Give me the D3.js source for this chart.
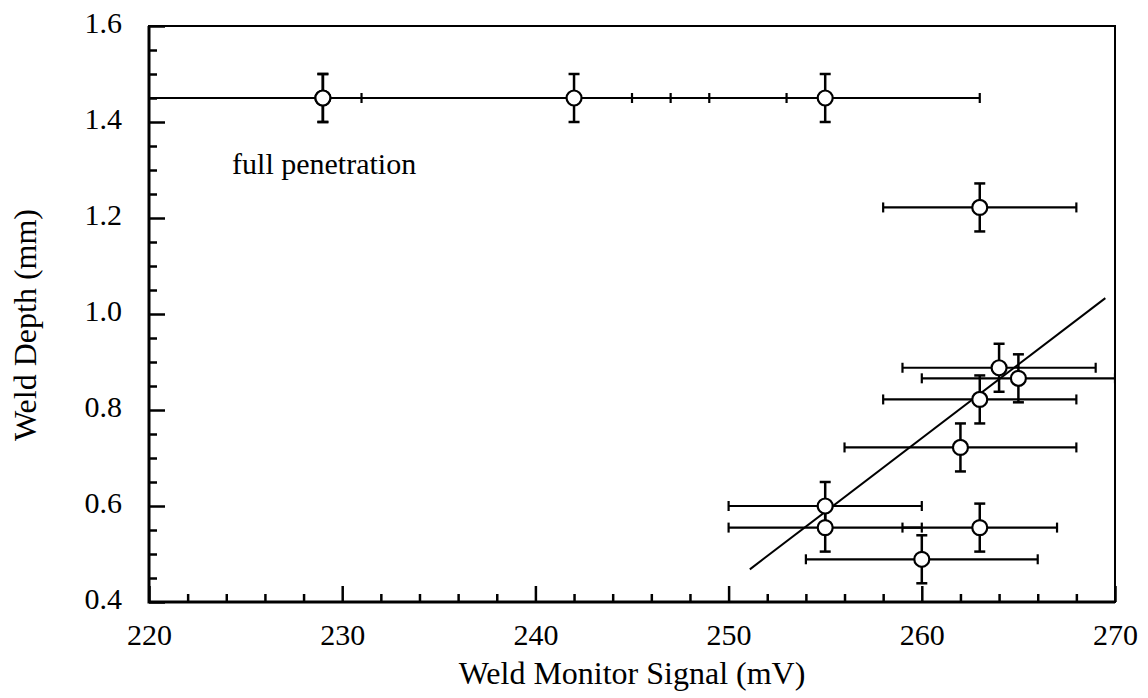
<!DOCTYPE html>
<html>
<head>
<meta charset="utf-8">
<script src="https://cdn.jsdelivr.net/npm/d3@7"></script>
<style>
  body { margin: 0; background: #fff; }
  svg text { font-family: "Liberation Serif", "Times New Roman", serif; fill: #000; }
</style>
</head>
<body>
<svg id="chart"></svg>
<script>
'use strict';

// measured points: weld monitor signal (mV) vs weld depth (mm)
var signal = [229, 229, 242, 255, 263, 264, 265, 263, 262, 255, 255, 263, 260];
var depth = [1.45, 1.45, 1.45, 1.45, 1.222, 0.888, 0.866, 0.822, 0.722, 0.600, 0.555, 0.555, 0.489];
var signalErr = [16, 20, 11, 8, 5, 5, 5, 5, 6, 5, 5, 4, 6];
var depthErr = [0.05, 0.05, 0.05, 0.05, 0.05, 0.05, 0.05, 0.05, 0.05, 0.05, 0.05, 0.05, 0.05];

// linear fit through the partial penetration points
var fitSignal = [251.1, 269.5];
var fitDepth = [0.468, 1.033];

var xTicks = [220, 230, 240, 250, 260, 270];
var yTicks = [0.4, 0.6, 0.8, 1.0, 1.2, 1.4, 1.6];

var width = 1148,
  height = 698,
  margin = {'top': 26, 'left': 149, 'right': 33, 'bottom': 96};

var iw = width - margin.left - margin.right,
  ih = height - margin.top - margin.bottom;

var xScale = d3.scaleLinear().domain([220, 270]).range([0, iw]);
var yScale = d3.scaleLinear().domain([0.4, 1.6]).range([ih, 0]);

var svg = d3.select('#chart')
  .attr('width', width)
  .attr('height', height);

svg.append('defs').append('clipPath')
  .attr('id', 'plotclip')
  .append('rect')
  .attr('width', iw)
  .attr('height', ih);

var g = svg.append('g')
  .attr('transform', 'translate(' + margin.left + ',' + margin.top + ')');

// minor ticks
var xMinor = d3.range(220, 271, 2).filter(function (v) { return v % 10 !== 0; });
var yMinor = d3.range(0, 25).map(function (i) { return +(0.4 + i * 0.05).toFixed(2); })
  .filter(function (v) { return Math.round(v * 100) % 20 !== 0; });

g.append('g')
  .attr('transform', 'translate(0,' + ih + ')')
  .call(d3.axisBottom(xScale).tickValues(xMinor).tickSize(-8).tickFormat(''))
  .call(function (a) { a.select('.domain').remove(); })
  .selectAll('line').attr('stroke-width', 2.5);

g.append('g')
  .call(d3.axisLeft(yScale).tickValues(yMinor).tickSize(-8).tickFormat(''))
  .call(function (a) { a.select('.domain').remove(); })
  .selectAll('line').attr('stroke-width', 2.5);

var xAxis = g.append('g')
  .attr('transform', 'translate(0,' + ih + ')')
  .call(d3.axisBottom(xScale).tickValues(xTicks).tickSize(-16).tickPadding(22).tickFormat(d3.format('d')));
xAxis.select('.domain').remove();
xAxis.selectAll('line').attr('stroke-width', 2.5);
xAxis.selectAll('text').attr('font-size', 30);

var yAxis = g.append('g')
  .call(d3.axisLeft(yScale).tickValues(yTicks).tickSize(-16).tickPadding(27).tickFormat(d3.format('.1f')));
yAxis.select('.domain').remove();
yAxis.selectAll('line').attr('stroke-width', 2.5);
yAxis.selectAll('text').attr('font-size', 30).attr('dy', '0.22em');

// frame
g.append('rect')
  .attr('width', iw)
  .attr('height', ih)
  .attr('fill', 'none')
  .attr('stroke', '#000')
  .attr('stroke-width', 2);
g.append('path')
  .attr('d', 'M0,0V' + ih + 'H' + iw)
  .attr('fill', 'none')
  .attr('stroke', '#000')
  .attr('stroke-width', 3);

var plot = g.append('g').attr('clip-path', 'url(#plotclip)');

// fit line
plot.append('line')
  .attr('x1', xScale(fitSignal[0]))
  .attr('y1', yScale(fitDepth[0]))
  .attr('x2', xScale(fitSignal[1]))
  .attr('y2', yScale(fitDepth[1]))
  .attr('stroke', '#000')
  .attr('stroke-width', 2);

var cap = 5;
signal.forEach(function (x, i) {
  var y = depth[i];
  var pg = plot.append('g').attr('stroke', '#000').attr('stroke-width', 2.2);
  var x0 = xScale(x - signalErr[i]), x1 = xScale(x + signalErr[i]);
  var y0 = yScale(y - depthErr[i]), y1 = yScale(y + depthErr[i]);
  var cx = xScale(x), cy = yScale(y);

  pg.append('line').attr('x1', x0).attr('x2', x1).attr('y1', cy).attr('y2', cy);
  [x0, x1].forEach(function (v) {
    pg.append('line').attr('x1', v).attr('x2', v).attr('y1', cy - cap).attr('y2', cy + cap);
  });

  pg.append('line').attr('x1', cx).attr('x2', cx).attr('y1', y0).attr('y2', y1).attr('stroke-width', 2.5);
  [y0, y1].forEach(function (v) {
    pg.append('line').attr('x1', cx - 5.5).attr('x2', cx + 5.5).attr('y1', v).attr('y2', v).attr('stroke-width', 2.5);
  });
});

plot.selectAll('circle.pt').data(signal).enter()
  .append('circle')
  .classed('pt', true)
  .attr('cx', function (d) { return xScale(d); })
  .attr('cy', function (d, i) { return yScale(depth[i]); })
  .attr('r', 7.5)
  .attr('fill', '#fff')
  .attr('stroke', '#000')
  .attr('stroke-width', 2.2);

// annotation
g.append('text')
  .attr('x', xScale(224.3))
  .attr('y', yScale(1.292))
  .attr('font-size', 30)
  .text('full penetration');

// axis titles
svg.append('text')
  .attr('x', margin.left + iw / 2)
  .attr('y', 684)
  .attr('text-anchor', 'middle')
  .attr('font-size', 32)
  .text('Weld Monitor Signal (mV)');

svg.append('text')
  .attr('transform', 'translate(36,325) rotate(-90)')
  .attr('text-anchor', 'middle')
  .attr('font-size', 32)
  .text('Weld Depth (mm)');
</script>
</body>
</html>
